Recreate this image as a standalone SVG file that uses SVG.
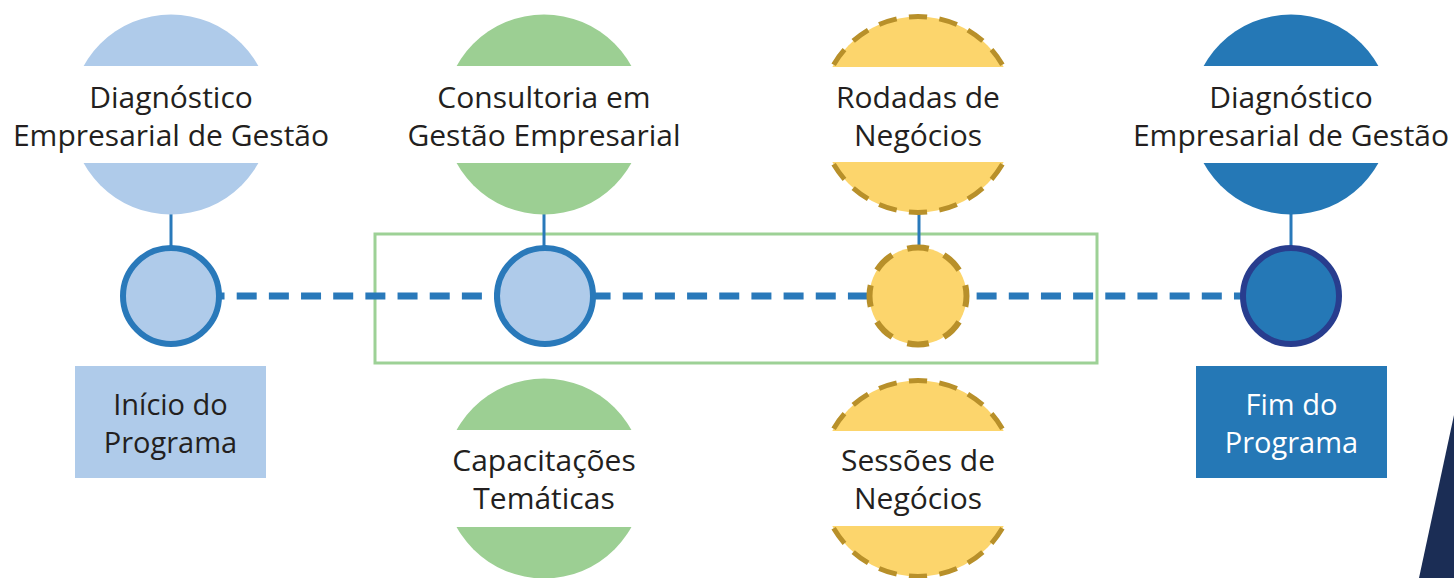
<svg xmlns="http://www.w3.org/2000/svg" width="1454" height="578" viewBox="0 0 1454 578">
<style>
.t{font-family:"Open Sans","Noto Sans","Liberation Sans",sans-serif;font-size:30px;fill:#231F20;text-anchor:middle}
.b{font-family:"Open Sans","Noto Sans","Liberation Sans",sans-serif;font-size:29px;text-anchor:middle}
.conn{stroke:#2979BA;stroke-width:3;fill:none}
.ydash{stroke:#B8902A;stroke-width:5;fill:#FCD56C;stroke-dasharray:6 4;stroke-dashoffset:3}
.ysmall{stroke:#B8902A;stroke-width:6;fill:#FCD56C;stroke-dasharray:5.7 4.3;stroke-dashoffset:2.85}
</style>
<defs>
<clipPath id="band" clipPathUnits="objectBoundingBox">
<path d="M-0.1,-0.1H1.1V0.2575H-0.1Z M-0.1,0.7425H1.1V1.1H-0.1Z"/>
</clipPath>
</defs>
<rect x="0" y="0" width="1454" height="578" fill="#FFFFFF"/>
<rect id="group-box" x="375" y="234" width="722" height="129" fill="none" stroke="#9DD196" stroke-width="3"/>
<g id="connectors">
<line class="conn" x1="171" y1="214" x2="171" y2="248"/>
<line class="conn" x1="544" y1="214" x2="544" y2="248"/>
<line class="conn" x1="919" y1="214" x2="919" y2="250"/>
<line class="conn" x1="1291" y1="214" x2="1291" y2="248"/>
<line x1="172.36" y1="296" x2="1291" y2="296" stroke="#2979BA" stroke-width="7" stroke-dasharray="20 12.17"/>
</g>
<g id="top1">
<circle cx="171" cy="114.5" r="100" fill="#AFCBEA" clip-path="url(#band)"/>
<text class="t" x="171" y="108">Diagnóstico<tspan x="171" dy="37.5">Empresarial de Gestão</tspan></text>
</g>
<g id="top2">
<circle cx="544" cy="114.5" r="100" fill="#9CCF93" clip-path="url(#band)"/>
<text class="t" x="544" y="108">Consultoria em<tspan x="544" dy="37.5">Gestão Empresarial</tspan></text>
</g>
<g id="top3">
<circle class="ydash" cx="918" cy="114.5" r="98" pathLength="200" clip-path="url(#band)"/>
<text class="t" x="918" y="108">Rodadas de<tspan x="918" dy="37.5">Negócios</tspan></text>
</g>
<g id="top4">
<circle cx="1291" cy="114.5" r="100" fill="#2578B6" clip-path="url(#band)"/>
<text class="t" x="1291" y="108">Diagnóstico<tspan x="1291" dy="37.5">Empresarial de Gestão</tspan></text>
</g>
<g id="mid1">
<circle cx="171" cy="296" r="48" fill="#AFCBEA" stroke="#2979BA" stroke-width="6"/>
</g>
<g id="mid2">
<circle cx="545" cy="296" r="48" fill="#AFCBEA" stroke="#2979BA" stroke-width="6"/>
</g>
<g id="mid3">
<circle class="ysmall" cx="918" cy="296" r="48.5" pathLength="80"/>
</g>
<g id="mid4">
<circle cx="1291" cy="296" r="48" fill="#2578B6" stroke="#283D8E" stroke-width="6"/>
</g>
<g id="start">
<rect x="75" y="366" width="191" height="112" fill="#AFCBEA"/>
<text class="b" x="170.5" y="415" fill="#231F20">Início do<tspan x="170.5" dy="37.7">Programa</tspan></text>
</g>
<g id="end">
<rect x="1196" y="366" width="191" height="112" fill="#2578B6"/>
<text class="b" x="1291.5" y="415" fill="#FFFFFF">Fim do<tspan x="1291.5" dy="37.7">Programa</tspan></text>
</g>
<g id="bottom2">
<circle cx="544" cy="478.5" r="100" fill="#9CCF93" clip-path="url(#band)"/>
<text class="t" x="544" y="471">Capacitações<tspan x="544" dy="38">Temáticas</tspan></text>
</g>
<g id="bottom3">
<circle class="ydash" cx="918" cy="478.5" r="98" pathLength="200" clip-path="url(#band)"/>
<text class="t" x="918" y="471">Sessões de<tspan x="918" dy="38">Negócios</tspan></text>
</g>
<polygon points="1454,415 1454,578 1419,578" fill="#1B2D55"/>
</svg>
